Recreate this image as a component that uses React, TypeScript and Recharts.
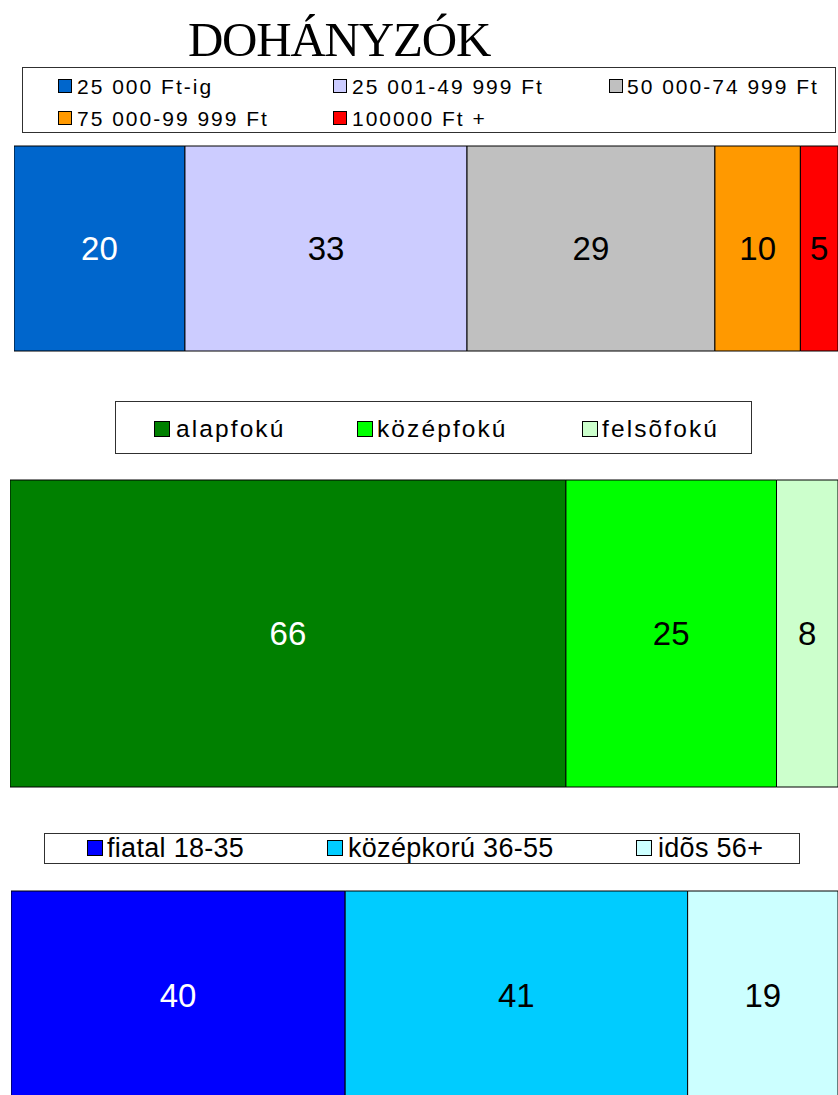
import React from 'react';
import { BarChart, Bar, XAxis, YAxis, Legend, LabelList } from 'recharts';

// ---------- data ----------
const title = 'DOHÁNYZÓK';

const incomeCategories = ['25 000 Ft-ig', '25 001-49 999 Ft', '50 000-74 999 Ft', '75 000-99 999 Ft', '100000 Ft +'];
const incomeValues = [20, 33, 29, 10, 5];

const educationCategories = ['alapfokú', 'középfokú', 'felsõfokú'];
const educationValues = [66, 25, 8];

const ageCategories = ['fiatal 18-35', 'középkorú 36-55', 'idõs 56+'];
const ageValues = [40, 41, 19];

// ---------- styles ----------
const incomeColors = ['#0066CC', '#CCCCFF', '#C0C0C0', '#FF9900', '#FF0000'];
const incomeLabelColors = ['#FFFFFF', '#000000', '#000000', '#000000', '#000000'];
const educationColors = ['#008000', '#00FF00', '#CCFFCC'];
const educationLabelColors = ['#FFFFFF', '#000000', '#000000'];
const ageColors = ['#0000FF', '#00CCFF', '#CCFFFF'];
const ageLabelColors = ['#FFFFFF', '#000000', '#000000'];

type Pos = { sx: number; tx: number; cy: number };

type LegendCfg = {
  left: number;
  top: number;
  width: number;
  height: number;
  pos: Pos[];
  swatch: number;
  font: number;
  spacing: number;
};

function LegendBox({ cfg, names, colors }: { cfg: LegendCfg; names: string[]; colors: string[] }) {
  return (
    <div
      style={{
        position: 'relative',
        width: cfg.width,
        height: cfg.height,
        boxSizing: 'border-box',
        border: '1px solid #303030',
        background: '#fff',
      }}
    >
      {names.map((n, i) => {
        const p = cfg.pos[i];
        return (
          <React.Fragment key={n}>
            <div
              style={{
                position: 'absolute',
                left: p.sx - cfg.left - 1,
                top: p.cy - cfg.top - 1 - cfg.swatch / 2,
                width: cfg.swatch,
                height: cfg.swatch,
                background: colors[i],
                border: '1px solid #000',
                boxSizing: 'border-box',
              }}
            />
            <div
              style={{
                position: 'absolute',
                left: p.tx - cfg.left - 1,
                top: p.cy - cfg.top - 1,
                transform: 'translateY(-50%)',
                fontFamily: 'Arial, "Liberation Sans", sans-serif',
                fontSize: cfg.font,
                letterSpacing: cfg.spacing,
                lineHeight: 1,
                whiteSpace: 'nowrap',
                color: '#000',
              }}
            >
              {n}
            </div>
          </React.Fragment>
        );
      })}
    </div>
  );
}

type ChartCfg = {
  top: number;
  height: number;
  margin: { top: number; right: number; bottom: number; left: number };
  domainMax: number;
  legend: LegendCfg;
};

function StackChart({
  cfg,
  names,
  values,
  colors,
  labelColors,
}: {
  cfg: ChartCfg;
  names: string[];
  values: number[];
  colors: string[];
  labelColors: string[];
}) {
  const row: Record<string, string | number> = { name: 'row' };
  values.forEach((v, i) => {
    row[`s${i}`] = v;
  });
  const data = [row];
  return (
    <div style={{ position: 'absolute', top: cfg.top, left: 0 }}>
      <BarChart
        width={838}
        height={cfg.height}
        data={data}
        layout="vertical"
        margin={cfg.margin}
        barCategoryGap={0}
        barGap={0}
      >
        <XAxis type="number" domain={[0, cfg.domainMax]} allowDataOverflow hide />
        <YAxis type="category" dataKey="name" hide />
        <Legend
          layout="horizontal"
          verticalAlign="middle"
          align="center"
          wrapperStyle={{
            position: 'absolute',
            top: cfg.legend.top - cfg.top,
            left: cfg.legend.left,
            width: cfg.legend.width,
            height: cfg.legend.height,
          }}
          content={() => <LegendBox cfg={cfg.legend} names={names} colors={colors} />}
        />
        {values.map((_, i) => (
          <Bar
            key={i}
            dataKey={`s${i}`}
            name={names[i]}
            stackId="a"
            fill={colors[i]}
            stroke="#000"
            strokeWidth={1}
            isAnimationActive={false}
          >
            <LabelList
              dataKey={`s${i}`}
              position="center"
              fill={labelColors[i]}
              fontSize={33}
              fontFamily='Arial, "Liberation Sans", sans-serif'
            />
          </Bar>
        ))}
      </BarChart>
    </div>
  );
}

const incomeCfg: ChartCfg = {
  top: 60,
  height: 300,
  margin: { top: 86, right: 0, bottom: 9, left: 14 },
  domainMax: 96.4,
  legend: {
    left: 22,
    top: 67,
    width: 814,
    height: 66,
    swatch: 14,
    font: 21,
    spacing: 2,
    pos: [
      { sx: 58, tx: 77, cy: 86 },
      { sx: 333, tx: 352, cy: 86 },
      { sx: 609, tx: 627, cy: 86 },
      { sx: 58, tx: 77, cy: 118 },
      { sx: 333, tx: 352, cy: 118 },
    ],
  },
};

const educationCfg: ChartCfg = {
  top: 390,
  height: 400,
  margin: { top: 90, right: 0, bottom: 3, left: 10 },
  domainMax: 98.3,
  legend: {
    left: 115,
    top: 401,
    width: 637,
    height: 53,
    swatch: 16,
    font: 24.5,
    spacing: 2.1,
    pos: [
      { sx: 154, tx: 176, cy: 429 },
      { sx: 357, tx: 377, cy: 429 },
      { sx: 582, tx: 602, cy: 429 },
    ],
  },
};

const ageCfg: ChartCfg = {
  top: 825,
  height: 275,
  margin: { top: 66, right: 0, bottom: 1, left: 11 },
  domainMax: 99.0,
  legend: {
    left: 44,
    top: 833,
    width: 756,
    height: 31,
    swatch: 16,
    font: 27,
    spacing: 0.3,
    pos: [
      { sx: 87, tx: 107, cy: 848 },
      { sx: 327, tx: 348, cy: 848 },
      { sx: 636, tx: 658, cy: 848 },
    ],
  },
};

export default function App() {
  return (
    <div
      style={{
        position: 'absolute',
        top: 0,
        left: 0,
        width: 838,
        height: 1095,
        overflow: 'hidden',
        background: '#fff',
      }}
    >
      <svg width={838} height={70} style={{ position: 'absolute', top: 0, left: 0 }}>
        <text
          x={339}
          y={56}
          textAnchor="middle"
          fontFamily='"Liberation Serif", "Times New Roman", serif'
          fontSize={49}
          letterSpacing={-1.2}
          fill="#000"
        >
          {title}
        </text>
      </svg>
      <StackChart
        cfg={incomeCfg}
        names={incomeCategories}
        values={incomeValues}
        colors={incomeColors}
        labelColors={incomeLabelColors}
      />
      <StackChart
        cfg={educationCfg}
        names={educationCategories}
        values={educationValues}
        colors={educationColors}
        labelColors={educationLabelColors}
      />
      <StackChart
        cfg={ageCfg}
        names={ageCategories}
        values={ageValues}
        colors={ageColors}
        labelColors={ageLabelColors}
      />
    </div>
  );
}
